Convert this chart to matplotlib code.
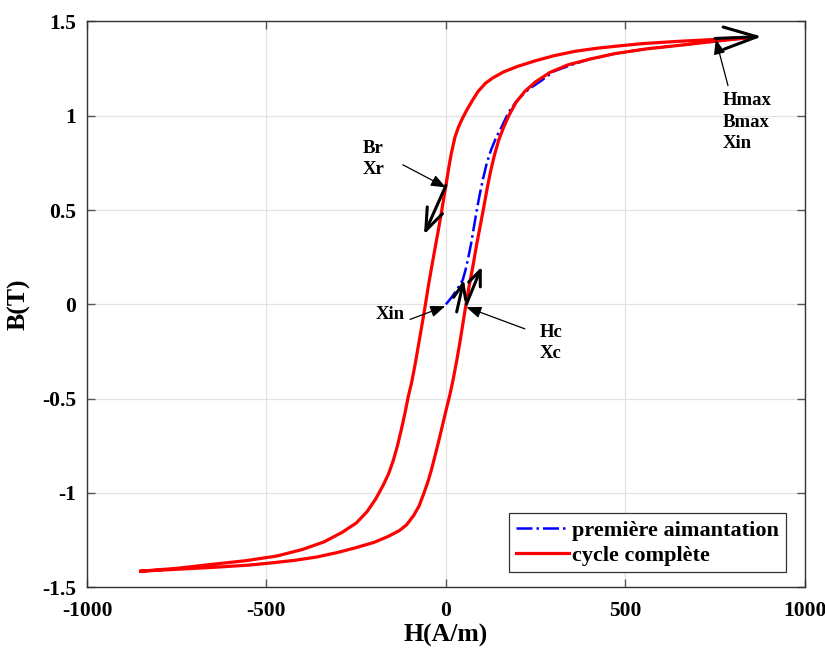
import numpy as np
from matplotlib import pyplot as plt

# branche montante du cycle (H en A/m, B en T)
H_up = [-850, -750, -650, -550, -490, -420, -360, -300, -250, -200, -160, -130, -110, -90, -75, -61, -50, -40, -30, -20, -10, 0, 11, 20, 30, 40, 50, 56, 65, 75, 85, 95, 105, 115, 125, 135, 147, 160, 175, 195, 220, 250, 290, 340, 400, 472, 560, 658, 750, 850]
B_up = [-1.415, -1.405, -1.395, -1.383, -1.372, -1.357, -1.340, -1.315, -1.290, -1.262, -1.230, -1.200, -1.170, -1.120, -1.070, -1.000, -0.940, -0.875, -0.800, -0.725, -0.645, -0.565, -0.480, -0.400, -0.300, -0.190, -0.070, 0.000, 0.100, 0.200, 0.310, 0.410, 0.510, 0.615, 0.710, 0.790, 0.870, 0.935, 1.000, 1.070, 1.130, 1.180, 1.230, 1.270, 1.300, 1.330, 1.355, 1.375, 1.395, 1.415]

# branche descendante
H_down = [850, 750, 650, 550, 490, 420, 360, 300, 250, 200, 160, 130, 110, 90, 75, 61, 47, 35, 25, 15, 8, 0, -11, -20, -31, -40, -50, -57, -65, -75, -85, -95, -105, -115, -125, -135, -147, -160, -175, -195, -220, -250, -290, -340, -400, -472, -560, -658, -750, -850]
B_down = [1.415, 1.405, 1.395, 1.383, 1.372, 1.358, 1.342, 1.318, 1.292, 1.262, 1.232, 1.200, 1.172, 1.130, 1.085, 1.040, 0.990, 0.940, 0.885, 0.800, 0.725, 0.630, 0.505, 0.405, 0.290, 0.195, 0.085, 0.000, -0.090, -0.200, -0.310, -0.410, -0.490, -0.585, -0.670, -0.750, -0.830, -0.900, -0.960, -1.030, -1.100, -1.160, -1.210, -1.260, -1.300, -1.335, -1.360, -1.380, -1.400, -1.415]

# premiere aimantation
H_first = [0, 15, 30, 47, 55, 62, 70, 78, 86, 95, 104, 114, 126, 140, 155, 175, 200, 230, 265, 300, 350, 400, 472, 560, 658, 750, 850]
B_first = [0.0, 0.035, 0.075, 0.13, 0.185, 0.245, 0.32, 0.41, 0.50, 0.59, 0.67, 0.75, 0.82, 0.885, 0.94, 1.02, 1.085, 1.14, 1.185, 1.235, 1.27, 1.30, 1.33, 1.355, 1.375, 1.395, 1.415]

# points remarquables
Hmax, Bmax = 750, 1.41
Br = 0.63
Hc = 57

plt.rcParams['font.family'] = 'Liberation Serif'
plt.rcParams['font.weight'] = 'bold'

fig = plt.figure(figsize=(8.25, 6.51), dpi=100)
ax = fig.add_axes([0.1055, 0.098, 0.870, 0.869])

ax.plot(H_first, B_first, '-.', color='blue', lw=1.8, label='première aimantation')
ax.plot(H_up + H_down, B_up + B_down, '-', color='red', lw=2.3, solid_joinstyle='round',
        label='cycle complète')

ax.set_xlim(-1000, 1000)
ax.set_ylim(-1.5, 1.5)
ax.set_xticks([-1000, -500, 0, 500, 1000])
ax.set_yticks([-1.5, -1, -0.5, 0, 0.5, 1, 1.5])
ax.set_xticklabels(['-1000', '-500', '0', '500', '1000'])
ax.set_yticklabels(['-1.5', '-1', '-0.5', '0', '0.5', '1', '1.5'])
ax.grid(True, color='#e3e3e3', lw=0.9)
ax.set_axisbelow(True)
ax.tick_params(direction='in', length=6, width=1, color='#555555', top=True, right=True,
               labelsize=15.5)
ax.tick_params(axis='x', pad=10)
ax.tick_params(axis='y', pad=8)
for s in ax.spines.values():
    s.set_color('#333333')
    s.set_linewidth(1)

ax.set_xlabel('H(A/m)', fontsize=18.5, fontweight='bold', labelpad=2)
ax.set_ylabel('B(T)', fontsize=18.5, fontweight='bold')
ax.yaxis.set_label_coords(-0.078, 0.5)

# fleches de sens de parcours
big = dict(arrowstyle='->,head_length=2.4,head_width=0.8', color='black', lw=2.2, shrinkA=0, shrinkB=0)
mid = dict(arrowstyle='->,head_length=1.6,head_width=0.6', color='black', lw=2.2, shrinkA=0, shrinkB=0)
small = dict(arrowstyle='->,head_length=1.1,head_width=0.45', color='black', lw=2.2, shrinkA=0, shrinkB=0)
ax.annotate('', xy=(880, 1.42), xytext=(Hmax, Bmax), arrowprops=big)
ax.annotate('', xy=(-61, 0.37), xytext=(0, Br), arrowprops=mid)
ax.annotate('', xy=(50, 0.13), xytext=(30, -0.04), arrowprops=small)
ax.annotate('', xy=(100, 0.20), xytext=(Hc, 0.0), arrowprops=small)

# etiquettes
thin = dict(arrowstyle='-|>,head_length=0.9,head_width=0.35', color='black', lw=0.9, shrinkA=0, shrinkB=0)
tfont = dict(fontsize=13.5, fontweight='bold')
ax.annotate('', xy=(0, Br - 0.01), xytext=(-120, 0.74), arrowprops=thin)
ax.text(-232, 0.77, 'Br\nXr', va='center', ha='left', linespacing=1.35, **tfont)
ax.annotate('', xy=(-2, -0.01), xytext=(-100, -0.08), arrowprops=thin)
ax.text(-195, -0.055, 'Xin', va='center', ha='left', **tfont)
ax.annotate('', xy=(Hc, -0.015), xytext=(220, -0.13), arrowprops=thin)
ax.text(262, -0.205, 'Hc\nXc', va='center', ha='left', linespacing=1.35, **tfont)
ax.annotate('', xy=(752, 1.405), xytext=(786, 1.16), arrowprops=thin)
ax.text(772, 0.965, 'Hmax\nBmax\nXin', va='center', ha='left', linespacing=1.35, **tfont)

leg = ax.legend(loc='lower right', bbox_to_anchor=(0.9735, 0.0265), borderaxespad=0,
                fancybox=False, framealpha=1, edgecolor='#333333', fontsize=16,
                handlelength=2.4, handletextpad=0.15, borderpad=0.3, labelspacing=0.2)
leg.get_frame().set_linewidth(0.9)

plt.savefig('out.png', dpi=100)
